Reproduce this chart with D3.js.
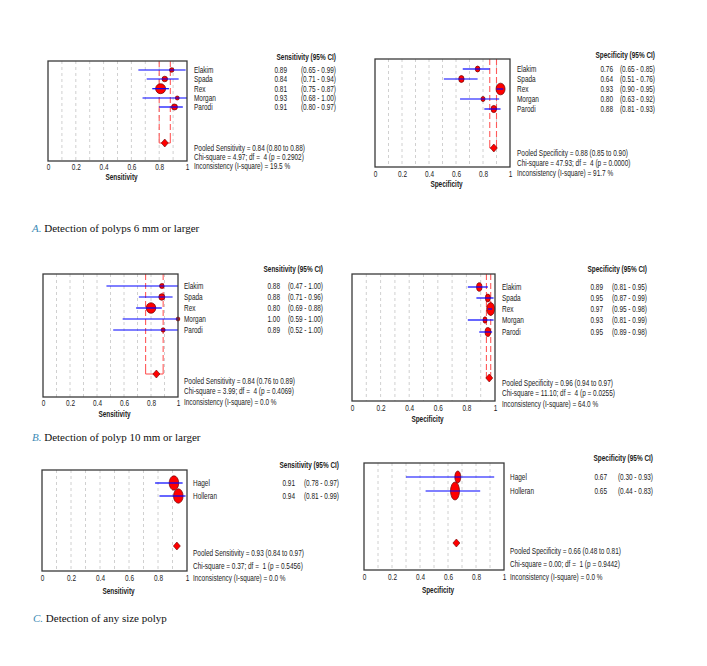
<!DOCTYPE html>
<html>
<head>
<meta charset="utf-8">
<script src="https://cdn.jsdelivr.net/npm/d3@7"></script>
<style>
  html, body { margin: 0; padding: 0; background: #fff; }
  svg text { white-space: pre; }
</style>
</head>
<body>
<svg id="chart" width="707" height="666"></svg>
<script>
// ---------------- DATA ----------------
const studies5 = ["Elakim", "Spada", "Rex", "Morgan", "Parodi"];
const studies2 = ["Hagel", "Holleran"];
const tickLabels = [0, 0.2, 0.4, 0.6, 0.8, 1];

// A. polyps >= 6 mm
const sens6    = [0.89, 0.84, 0.81, 0.93, 0.91];
const sens6Lo  = [0.65, 0.71, 0.75, 0.68, 0.80];
const sens6Hi  = [0.99, 0.94, 0.87, 1.00, 0.97];
const sens6W   = [21, 31, 100, 16, 36];
const sens6Pooled = [0.84, 0.80, 0.88];
const sens6Stats  = ["4.97", "4", "0.2902", "19.5"];

const spec6    = [0.76, 0.64, 0.93, 0.80, 0.88];
const spec6Lo  = [0.65, 0.51, 0.90, 0.63, 0.81];
const spec6Hi  = [0.85, 0.76, 0.95, 0.92, 0.93];
const spec6W   = [21, 29, 81, 16, 31];
const spec6Pooled = [0.88, 0.85, 0.90];
const spec6Stats  = ["47.93", "4", "0.0000", "91.7"];

// B. polyps >= 10 mm
const sens10   = [0.88, 0.88, 0.80, 1.00, 0.89];
const sens10Lo = [0.47, 0.71, 0.69, 0.59, 0.52];
const sens10Hi = [1.00, 0.96, 0.88, 1.00, 1.00];
const sens10W  = [21, 36, 92, 13, 16];
const sens10Pooled = [0.84, 0.76, 0.89];
const sens10Stats  = ["3.99", "4", "0.4069", "0.0"];

const spec10   = [0.89, 0.95, 0.97, 0.93, 0.95];
const spec10Lo = [0.81, 0.87, 0.95, 0.81, 0.89];
const spec10Hi = [0.95, 0.99, 0.98, 0.99, 0.98];
const spec10W  = [29, 25, 64, 16, 31];
const spec10Pooled = [0.96, 0.94, 0.97];
const spec10Stats  = ["11.10", "4", "0.0255", "64.0"];

// C. any size polyp
const sensAny   = [0.91, 0.94];
const sensAnyLo = [0.78, 0.81];
const sensAnyHi = [0.97, 0.99];
const sensAnyW  = [92, 92];
const sensAnyPooled = [0.93, 0.84, 0.97];
const sensAnyStats  = ["0.37", "1", "0.5456", "0.0"];

const specAny   = [0.67, 0.65];
const specAnyLo = [0.30, 0.44];
const specAnyHi = [0.93, 0.83];
const specAnyW  = [36, 81];
const specAnyPooled = [0.66, 0.48, 0.81];
const specAnyStats  = ["0.00", "1", "0.9442", "0.0"];

const captionLetters = ["A.", "B.", "C."];
const captionTexts = ["Detection of polyps 6 mm or larger",
                      "Detection of polyp 10 mm or larger",
                      "Detection of any size polyp"];

// ---------------- LAYOUT ----------------
const panels = [
  { kind: "Sensitivity", studies: studies5, v: sens6, lo: sens6Lo, hi: sens6Hi, w: sens6W, pooled: sens6Pooled, stats: sens6Stats,
    box: [48, 61, 187, 161], tickY: 167, titleY: 177, labelX: 194, rows: [70, 79, 88.7, 98, 107],
    headY: 57, valR: 287, ciR: 336, diaY: 143, statY: [148, 157, 166], aspect: 1, redLines: true },
  { kind: "Specificity", studies: studies5, v: spec6, lo: spec6Lo, hi: spec6Hi, w: spec6W, pooled: spec6Pooled, stats: spec6Stats,
    box: [375, 59, 510, 167], tickY: 174, titleY: 184, labelX: 517, rows: [69, 79, 89, 99, 109],
    headY: 55, valR: 613, ciR: 655, diaY: 148, statY: [153, 163, 173], aspect: 1.3, redLines: true },
  { kind: "Sensitivity", studies: studies5, v: sens10, lo: sens10Lo, hi: sens10Hi, w: sens10W, pooled: sens10Pooled, stats: sens10Stats,
    box: [43, 274, 178, 397], tickY: 403, titleY: 414, labelX: 184, rows: [286, 297, 308, 319, 330],
    headY: 269, valR: 280, ciR: 323, diaY: 374, statY: [381, 391, 402], aspect: 1.1, redLines: true },
  { kind: "Specificity", studies: studies5, v: spec10, lo: spec10Lo, hi: spec10Hi, w: spec10W, pooled: spec10Pooled, stats: spec10Stats,
    box: [352, 274, 495, 401], tickY: 408, titleY: 419, labelX: 502, rows: [287, 298, 309, 320, 332],
    headY: 269, valR: 603, ciR: 647, diaY: 378, statY: [383, 393, 404], aspect: 1.6, redLines: true },
  { kind: "Sensitivity", studies: studies2, v: sensAny, lo: sensAnyLo, hi: sensAnyHi, w: sensAnyW, pooled: sensAnyPooled, stats: sensAnyStats,
    box: [42, 470, 187, 571], tickY: 578, titleY: 591, labelX: 193, rows: [483, 496],
    headY: 465, valR: 295, ciR: 339, diaY: 546, statY: [553, 566, 578], aspect: 1.5, redLines: false },
  { kind: "Specificity", studies: studies2, v: specAny, lo: specAnyLo, hi: specAnyHi, w: specAnyW, pooled: specAnyPooled, stats: specAnyStats,
    box: [364, 463, 504, 570], tickY: 577, titleY: 590, labelX: 510, rows: [477, 491],
    headY: 458, valR: 607, ciR: 653, diaY: 543, statY: [551, 564, 577], aspect: 2, redLines: false }
];
const captionPos = [[32, 228], [32, 437], [33, 618]];

// ---------------- DRAW ----------------
const svg = d3.select("#chart");
const SX = 0.76;
const FS = 8.5;
const FONT = "'Liberation Sans', Arial, sans-serif";
const TXT = "#1a1a1a";

function txt(g, x, y, s, opt = {}) {
  return g.append("text")
    .attr("transform", `translate(${x},${y}) scale(${SX},1)`)
    .attr("dy", "0.35em")
    .attr("text-anchor", opt.anchor || "start")
    .attr("font-family", FONT)
    .attr("font-size", opt.size || FS)
    .attr("font-weight", opt.bold ? "bold" : "normal")
    .attr("fill", TXT)
    .text(s);
}

const fmt = d3.format(".2f");
const rScale = d3.scaleSqrt().domain([0, 100]).range([0, 5]);

panels.forEach(p => {
  const g = svg.append("g");
  const [x0, y0, x1, y1] = p.box;
  const x = d3.scaleLinear().domain([0, 1]).range([x0, x1]);
  const y = d3.scaleOrdinal().domain(p.studies).range(p.rows);

  // gridlines
  g.selectAll("line.grid").data(d3.range(1, 10).map(i => i / 10)).join("line")
    .attr("x1", d => x(d)).attr("x2", d => x(d))
    .attr("y1", y0).attr("y2", y1)
    .attr("stroke", "#c4c4c4").attr("stroke-width", 0.8).attr("stroke-dasharray", "3,3");

  // pooled CI red lines
  if (p.redLines) {
    [p.pooled[1], p.pooled[2]].forEach(v => {
      g.append("line").attr("x1", x(v)).attr("x2", x(v))
        .attr("y1", y0).attr("y2", p.diaY - 6)
        .attr("stroke", "#ff5a5a").attr("stroke-width", 1.1).attr("stroke-dasharray", "6,3");
      g.append("line").attr("x1", x(v)).attr("x2", x(v))
        .attr("y1", p.diaY - 6).attr("y2", p.diaY)
        .attr("stroke", "#ff5a5a").attr("stroke-width", 1.1);
    });
    g.append("line").attr("x1", x(p.pooled[1])).attr("x2", x(p.pooled[2]))
      .attr("y1", p.diaY).attr("y2", p.diaY)
      .attr("stroke", "#ff5a5a").attr("stroke-width", 1.1);
  }

  // markers
  g.selectAll("ellipse.pt").data(p.studies).join("ellipse")
    .attr("cx", (d, i) => x(p.v[i])).attr("cy", d => y(d))
    .attr("rx", (d, i) => rScale(p.w[i]))
    .attr("ry", (d, i) => rScale(p.w[i]) * p.aspect)
    .attr("fill", "#ff0000").attr("stroke", "#6a0000").attr("stroke-width", 0.7);

  // CI lines
  g.selectAll("line.ci").data(p.studies).join("line")
    .attr("x1", (d, i) => x(p.lo[i])).attr("x2", (d, i) => x(p.hi[i]))
    .attr("y1", d => y(d)).attr("y2", d => y(d))
    .attr("stroke", "#0000ff").attr("stroke-width", 1.2);

  // pooled diamond
  const cx = x(p.pooled[0]), cy = p.diaY;
  g.append("path")
    .attr("d", `M${cx - 3.5},${cy} L${cx},${cy - 4} L${cx + 3.5},${cy} L${cx},${cy + 4} Z`)
    .attr("fill", "#ff0000").attr("stroke", "#6a0000").attr("stroke-width", 0.6);

  // box
  g.append("rect").attr("x", x0).attr("y", y0).attr("width", x1 - x0).attr("height", y1 - y0)
    .attr("fill", "none").attr("stroke", "#3a3a3a").attr("stroke-width", 1.3);

  // axis
  const axis = d3.axisBottom(x).tickValues(tickLabels).tickSize(0)
    .tickFormat(d => (d === 0 || d === 1) ? String(d) : d.toFixed(1));
  const ag = g.append("g").attr("transform", `translate(0,${p.tickY})`).call(axis);
  ag.select(".domain").remove();
  ag.selectAll("text")
    .attr("y", 0).attr("dy", "0.35em")
    .attr("transform", `scale(${SX},1)`)
    .attr("font-family", FONT).attr("font-size", FS).attr("fill", TXT);

  // axis title
  txt(g, (x0 + x1) / 2 + 4, p.titleY, p.kind, { anchor: "middle", bold: true });

  // header
  txt(g, p.ciR, p.headY, `${p.kind} (95% CI)`, { anchor: "end", bold: true });

  // rows text
  p.studies.forEach((s, i) => {
    txt(g, p.labelX, y(s), s);
    txt(g, p.valR, y(s), fmt(p.v[i]), { anchor: "end" });
    txt(g, p.ciR, y(s), `(${fmt(p.lo[i])} - ${fmt(p.hi[i])})`, { anchor: "end" });
  });

  // stats
  txt(g, p.labelX, p.statY[0], `Pooled ${p.kind} = ${fmt(p.pooled[0])} (${fmt(p.pooled[1])} to ${fmt(p.pooled[2])})`);
  txt(g, p.labelX, p.statY[1], `Chi-square = ${p.stats[0]}; df =  ${p.stats[1]} (p = ${p.stats[2]})`);
  txt(g, p.labelX, p.statY[2], `Inconsistency (I-square) = ${p.stats[3]} %`);
});

// captions
captionLetters.forEach((L, i) => {
  const [cx, cy] = captionPos[i];
  const t = svg.append("text").attr("x", cx).attr("y", cy).attr("dy", "0.35em")
    .attr("font-family", "'Liberation Serif', 'Times New Roman', serif")
    .attr("font-size", 11).attr("fill", "#111");
  t.append("tspan").attr("font-style", "italic").attr("fill", "#3d8bb5").text(L + " ");
  t.append("tspan").text(captionTexts[i]);
});
</script>
</body>
</html>
